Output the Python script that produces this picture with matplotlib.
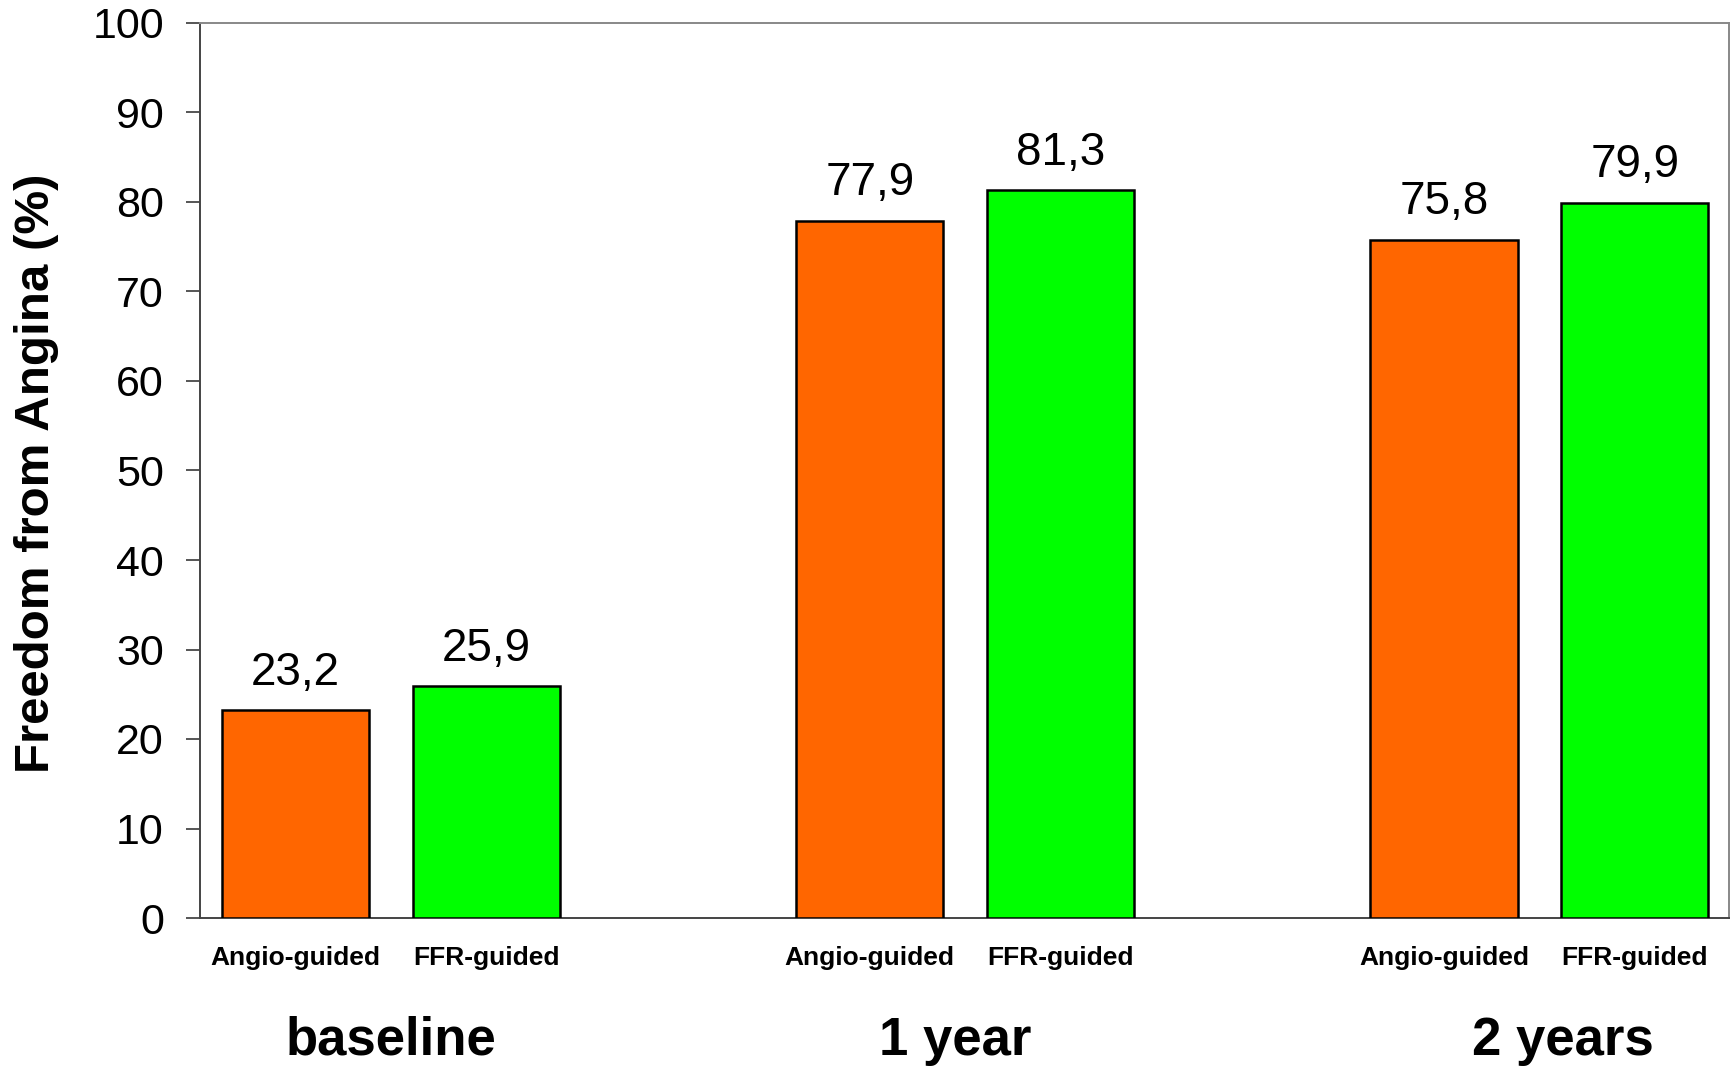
import numpy as np
import matplotlib
matplotlib.use("Agg")
import matplotlib.pyplot as plt

# Freedom from angina (%) by time point and strategy
groups = ["baseline", "1 year", "2 years"]
series = ["Angio-guided", "FFR-guided"]
angio_values = [23.2, 77.9, 75.8]
ffr_values = [25.9, 81.3, 79.9]
y_ticks = [0, 10, 20, 30, 40, 50, 60, 70, 80, 90, 100]

plt.rcParams["font.family"] = ["Liberation Sans", "DejaVu Sans"]

fig = plt.figure(figsize=(17.36, 10.70), dpi=100)
ax = fig.add_axes([200 / 1736, 152 / 1070, 1529 / 1736, 895 / 1070])

x = np.arange(len(groups))
offset = 0.1663
width = 0.256
colors = ["#FF6600", "#00FF00"]

for vals, dx, col in ((angio_values, -offset, colors[0]), (ffr_values, offset, colors[1])):
    bars = ax.bar(x + dx, vals, width=width, color=col, edgecolor="black",
                  linewidth=1.8, zorder=3)
    for rect, v in zip(bars, vals):
        ax.annotate(f"{v:.1f}".replace(".", ","),
                    xy=(rect.get_x() + rect.get_width() / 2, v),
                    xytext=(0, 18.5), textcoords="offset points",
                    ha="center", va="baseline", fontsize=33)

ax.set_xlim(-0.3326, 2.330)
ax.set_ylim(0, 100)
ax.set_yticks(y_ticks)
ax.tick_params(axis="y", length=10, width=1.4, color="#555555", pad=16, labelsize=31)

# strategy labels under each bar
xt = np.concatenate([x - offset, x + offset])
xl = [series[0]] * len(groups) + [series[1]] * len(groups)
ax.set_xticks(xt)
ax.set_xticklabels(xl, fontsize=19, fontweight="bold")
ax.tick_params(axis="x", length=0, pad=33.8)
for lbl in ax.get_xticklabels():
    lbl.set_va("baseline")

# time-point labels
group_shift = [0, -7, 17]
for gx, name, sh in zip(x, groups, group_shift):
    ax.annotate(name, xy=(gx, 0), xycoords=("data", "axes fraction"),
                xytext=(sh, -98.6), textcoords="offset points",
                ha="center", va="baseline", fontsize=38, fontweight="bold")

for side in ("top", "right"):
    ax.spines[side].set_color("#888888")
    ax.spines[side].set_linewidth(1.4)
for side in ("left", "bottom"):
    ax.spines[side].set_color("#444444")
    ax.spines[side].set_linewidth(1.4)

fig.text(37 / 1736, (1070 - 473) / 1070, "Freedom from Angina (%)",
         rotation=90, ha="center", va="center", fontsize=35.5, fontweight="bold")

fig.savefig("out.png", dpi=100, facecolor="white")
